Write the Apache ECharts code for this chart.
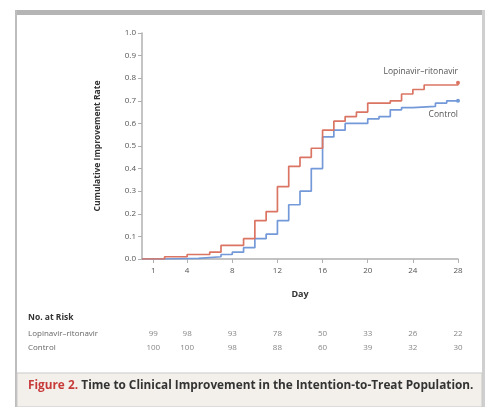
<!DOCTYPE html>
<html><head><meta charset="utf-8">
<script src="https://cdn.jsdelivr.net/npm/echarts@6/dist/echarts.min.js"></script>
<style>html,body{margin:0;padding:0;background:#fff}#c{width:485px;height:407px}</style>
</head><body><div id="c"></div>
<script>
// Kaplan-Meier style cumulative improvement (day, rate)
const lopinavirDays  = [0, 2, 4, 6, 7, 9, 10, 11, 12, 13, 14, 15, 16, 17, 18, 19, 20, 22, 23, 24, 25, 28];
const lopinavirRate  = [0, 0.01, 0.02, 0.03, 0.06, 0.09, 0.17, 0.21, 0.32, 0.41, 0.45, 0.49, 0.57, 0.61, 0.63, 0.65, 0.69, 0.70, 0.73, 0.75, 0.77, 0.78];
const controlDays    = [0, 2, 5, 7, 8, 9, 10, 11, 12, 13, 14, 15, 16, 17, 18, 20, 21, 22, 23, 24, 26, 27, 28];
const controlRate    = [0, 0.003, 0.01, 0.02, 0.03, 0.05, 0.09, 0.11, 0.17, 0.24, 0.30, 0.40, 0.54, 0.57, 0.60, 0.62, 0.63, 0.66, 0.67, 0.675, 0.69, 0.70, 0.70];
const dayTicks       = [1, 4, 8, 12, 16, 20, 24, 28];
const riskGroups     = ['Lopinavir\u2013ritonavir', 'Control'];
const riskLopinavir  = [99, 98, 93, 78, 50, 33, 26, 22];
const riskControl    = [100, 100, 98, 88, 60, 39, 32, 30];

const RED = '#db7563', BLUE = '#7399d8';
const toPts = (d, v) => d.map((x, i) => [x, v[i]]);
const lastSym = n => (val, p) => p.dataIndex === n - 1 ? 4 : 0;

const riskData = [];
dayTicks.forEach((d, i) => {
  riskData.push([d, riskGroups[0], riskLopinavir[i]]);
  riskData.push([d, riskGroups[1], riskControl[i]]);
});

const chart = echarts.init(document.getElementById('c'));
chart.setOption({
  animation: false,
  textStyle: {fontFamily: 'Open Sans'},
  graphic: [
    {type: 'rect', shape: {x: 15, y: 10, width: 470, height: 5}, style: {fill: '#b5b5b5'}},
    {type: 'rect', shape: {x: 15, y: 10, width: 2, height: 397}, style: {fill: '#bdbdbd'}},
    {type: 'rect', shape: {x: 482, y: 10, width: 3, height: 397}, style: {fill: '#cfcfcf'}},
    {type: 'rect', shape: {x: 17, y: 373, width: 465, height: 34}, style: {fill: '#f3f0eb', stroke: '#c9c9c9', lineWidth: 1}},
    {type: 'text', left: 28, top: 380, style: {
      rich: {r: {fill: '#c73a3a', fontWeight: 'bold', fontSize: 11.8, fontFamily: 'Open Sans'},
             b: {fill: '#333', fontWeight: 'bold', fontSize: 11.8, fontFamily: 'Open Sans'}},
      text: '{r|Figure 2.} {b|Time to Clinical Improvement in the Intention-to-Treat Population.}'}},
    {type: 'text', left: 28, top: 313, style: {text: 'No. at Risk', fill: '#333', fontWeight: 'bold', fontSize: 8.5, fontFamily: 'Open Sans'}},
    {type: 'text', right: 27, top: 67, style: {text: 'Lopinavir\u2013ritonavir', fill: '#555', fontSize: 8.5, fontFamily: 'Open Sans'}},
    {type: 'text', right: 27, top: 110, style: {text: 'Control', fill: '#555', fontSize: 8.5, fontFamily: 'Open Sans'}}
  ],
  grid: [
    {left: 142, right: 27, top: 33, bottom: 148},
    {left: 142, right: 27, top: 327, height: 28}
  ],
  xAxis: [
    {type: 'value', gridIndex: 0, min: 0, max: 28,
     name: 'Day', nameLocation: 'middle', nameGap: 31,
     nameTextStyle: {fontWeight: 'bold', fontSize: 9, color: '#333'},
     axisLine: {lineStyle: {color: '#b0b0b0', width: 1.5}},
     axisTick: {show: true, length: 4, customValues: dayTicks, lineStyle: {color: '#b0b0b0'}},
     axisLabel: {customValues: dayTicks, fontSize: 8, color: '#555', margin: 8},
     splitLine: {show: false}},
    {type: 'value', gridIndex: 1, min: 0, max: 28, show: false}
  ],
  yAxis: [
    {type: 'value', gridIndex: 0, min: 0, max: 1, interval: 0.1,
     name: 'Cumulative Improvement Rate', nameLocation: 'middle', nameGap: 40,
     nameTextStyle: {fontWeight: 'bold', fontSize: 8.5, color: '#333'},
     axisLine: {show: true, lineStyle: {color: '#b0b0b0', width: 1.5}},
     axisTick: {show: true, length: 4, lineStyle: {color: '#b0b0b0'}},
     axisLabel: {fontSize: 8, color: '#555', margin: 6, formatter: v => v.toFixed(1)},
     splitLine: {show: false}},
    {type: 'category', gridIndex: 1, data: riskGroups, inverse: true,
     axisLine: {show: false}, axisTick: {show: false},
     axisLabel: {show: true, fontSize: 8, color: '#666', margin: 114, align: 'left'}}
  ],
  series: [
    {type: 'line', name: 'Lopinavir\u2013ritonavir', step: 'end', data: toPts(lopinavirDays, lopinavirRate),
     lineStyle: {color: RED, width: 1.7}, itemStyle: {color: RED}, symbol: 'circle',
     symbolSize: lastSym(lopinavirDays.length), showSymbol: true, z: 3},
    {type: 'line', name: 'Control', step: 'end', data: toPts(controlDays, controlRate),
     lineStyle: {color: BLUE, width: 1.7}, itemStyle: {color: BLUE}, symbol: 'circle',
     symbolSize: lastSym(controlDays.length), showSymbol: true, z: 2},
    {type: 'scatter', xAxisIndex: 1, yAxisIndex: 1, data: riskData, symbolSize: 0,
     label: {show: true, position: 'inside', formatter: p => p.value[2], fontSize: 8, color: '#666'}}
  ]
});
</script></body></html>
